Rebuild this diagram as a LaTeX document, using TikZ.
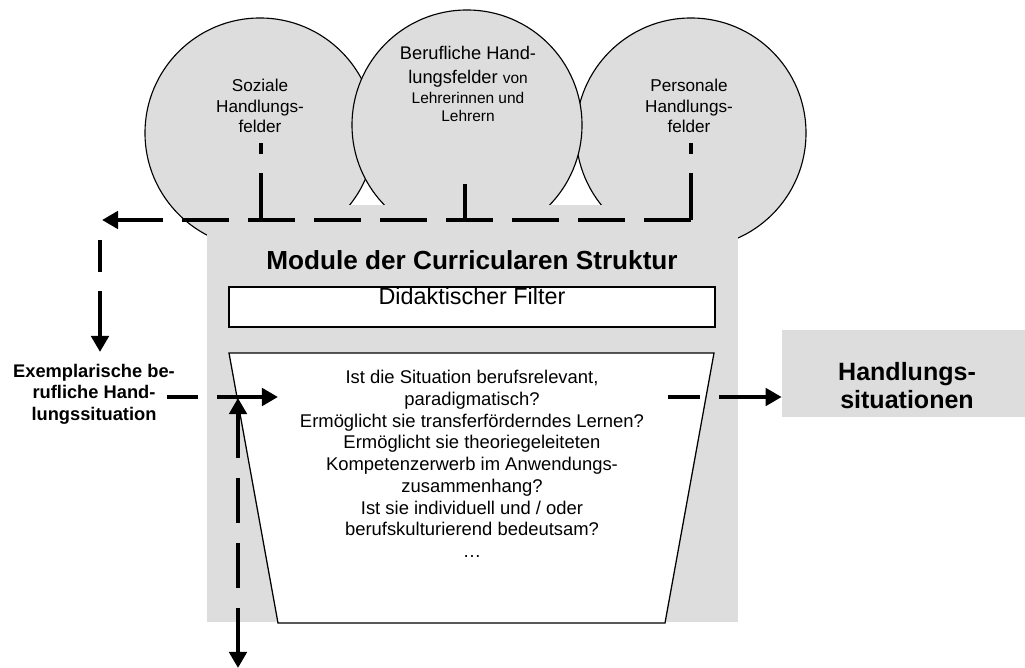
\documentclass[tikz,border=0pt]{standalone}
\usepackage{fontspec}
\setmainfont{Liberation Sans}
\usetikzlibrary{arrows.meta,positioning}
\definecolor{feldgrau}{RGB}{221,221,221}

\begin{document}
\begin{tikzpicture}[x=0.025cm,y=-0.025cm,
        feld/.style={circle,draw,line width=0.8pt,fill=feldgrau,minimum size=5.75cm,inner sep=0pt},
        feldtext/.style={align=center,inner sep=0pt,font=\fontsize{12.2}{14.6}\selectfont},
        strich/.style={line width=0.1cm,dash pattern=on 1.175cm off 0.475cm},
        pfeil/.style={-{Triangle[length=0.4cm,width=0.43cm]}},
        doppelpfeil/.style={{Triangle[length=0.4cm,width=0.43cm]}-{Triangle[length=0.4cm,width=0.43cm]}},
        grauflaeche/.style={fill=feldgrau,inner sep=0pt}]
    \useasboundingbox (0,0) rectangle (1025,668);
    \node[feld] (soziale) at (260,133) {};
    \node[feld] (personale) at (691,133) {};
    \node[feld] (berufliche) at (467,125) {};
    \node[feldtext] (sozialetext) at (260,106) {Soziale\\Handlungs-\\felder};
    \node[feldtext,font=\fontsize{13}{17}\selectfont] (beruflichetext) at (468,84)
        {Berufliche Hand-\\lungsfelder {\fontsize{11}{13}\selectfont von}\\[-3pt]
         {\fontsize{11}{13}\selectfont Lehrerinnen und}\\[-4pt]{\fontsize{11}{13}\selectfont Lehrern}};
    \node[feldtext] (personaletext) at (689,106) {Personale\\Handlungs-\\felder};

    \node[grauflaeche,minimum width=13.275cm,minimum height=10.425cm] (modul) at (472.5,413.5) {};
    \node[grauflaeche,minimum width=6.075cm,minimum height=2.175cm] (handlung) at (903.5,373.5) {};

    \coordinate (sozialefuss) at (261,143);
    \coordinate (sozialeknoten) at (261,220);
    \coordinate (beruflichefuss) at (465,184);
    \coordinate (beruflicheknoten) at (465,220);
    \coordinate (personalefuss) at (691,143);
    \coordinate (personaleknoten) at (691,220);
    \coordinate (linksoben) at (102,220);
    \coordinate (linksstart) at (100,240);
    \coordinate (linksziel) at (100,352);
    \coordinate (exstart) at (167,397);
    \coordinate (exziel) at (278,397);
    \coordinate (filteroben) at (238,398);
    \coordinate (filterunten) at (238,668);
    \coordinate (rausstart) at (668,397);
    \coordinate (ftl) at (229,353);
    \coordinate (ftr) at (714,353);
    \coordinate (fbr) at (665,623);
    \coordinate (fbl) at (278,623);

    \draw[strich] (sozialeknoten) -- (sozialefuss);
    \draw[line width=0.1cm] (beruflicheknoten) -- (beruflichefuss);
    \draw[strich] (personaleknoten) -- (personalefuss);
    \draw[strich,pfeil] (personaleknoten) -- (linksoben);

    \node[font=\bfseries\fontsize{18.6}{22}\selectfont,inner sep=0pt] (titel) at (472,260) {Module der Curricularen Struktur};
    \node[draw,fill=white,line width=0.9pt,minimum width=12.15cm,inner xsep=0pt,inner ysep=0pt,
        text height=0.45cm,text depth=0.55cm,anchor=base,font=\fontsize{16.6}{19}\selectfont] (filter) at (472,305) {Didaktischer Filter};
    \draw[fill=white,line width=0.9pt] (ftl) -- (ftr) -- (fbr) -- (fbl) -- cycle;
    \node[align=center,inner sep=0pt,font=\fontsize{13.1}{15.45}\selectfont] (fragen) at (472,464)
        {Ist die Situation berufsrelevant,\\paradigmatisch?\\Ermöglicht sie transferförderndes Lernen?\\
         Ermöglicht sie theoriegeleiteten\\Kompetenzerwerb im Anwendungs-\\zusammenhang?\\
         Ist sie individuell und / oder\\berufskulturierend bedeutsam?\\…};

    \node[align=center,inner sep=0pt,font=\bfseries\fontsize{13}{15.2}\selectfont] (exemplar) at (94,394)
        {Exemplarische be-\\rufliche Hand-\\lungssituation};
    \node[align=center,inner sep=0pt,font=\bfseries\fontsize{17.8}{19.9}\selectfont] (handlungtext) at (907,386)
        {Handlungs-\\situationen};

    \draw[strich,pfeil,dash phase=0.375cm] (linksstart) -- (linksziel);
    \draw[strich,pfeil,dash phase=0.4cm] (exstart) -- (exziel);
    \draw[line width=0.1cm,dash pattern=on 1.125cm off 0.5cm,doppelpfeil] (filteroben) -- (filterunten);
    \draw[strich,pfeil,dash phase=0.375cm] (rausstart) -- (rausstart -| handlung.west);
\end{tikzpicture}
\end{document}
